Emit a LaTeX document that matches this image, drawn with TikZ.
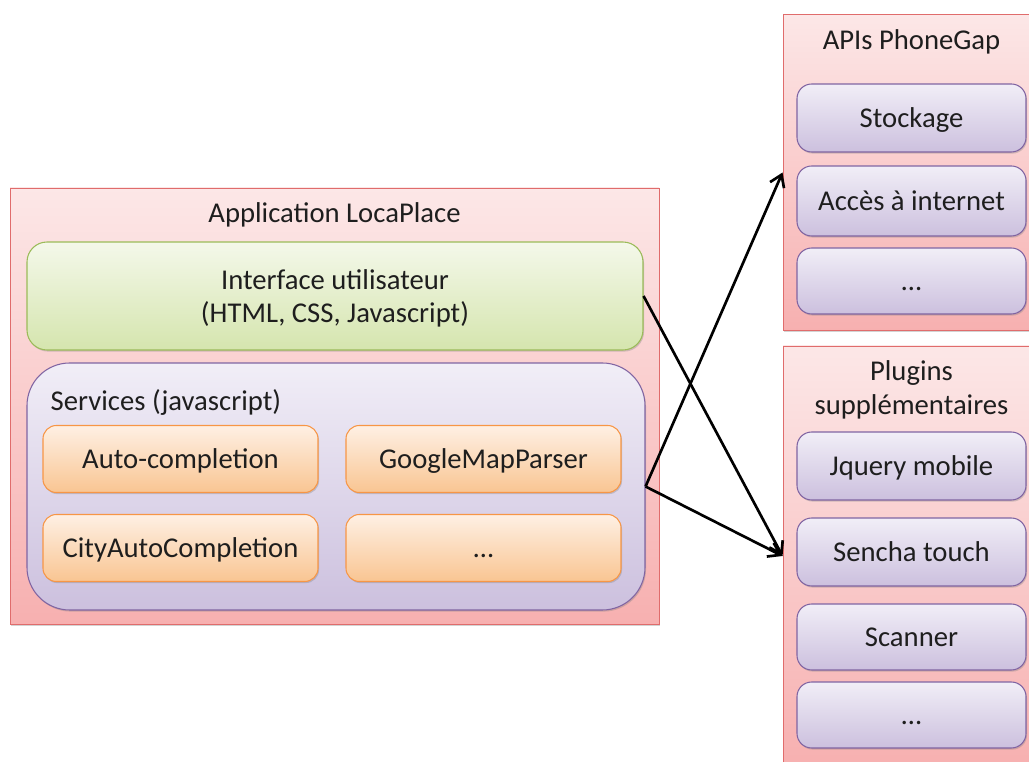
\documentclass[tikz,border=0pt]{standalone}
\usepackage{fontspec}
\setmainfont{Carlito}
\usetikzlibrary{arrows.meta,positioning,shadows}
\definecolor{ink}{HTML}{1E1E1E}
\definecolor{appTop}{HTML}{FCE7E7}
\definecolor{appBot}{HTML}{F7B0B0}
\definecolor{appLine}{HTML}{E06C6C}
\definecolor{uiTop}{HTML}{F4F8EA}
\definecolor{uiBot}{HTML}{D5E5AE}
\definecolor{uiLine}{HTML}{9BBB59}
\definecolor{svTop}{HTML}{F1EEF7}
\definecolor{svBot}{HTML}{CCC0DE}
\definecolor{svLine}{HTML}{8064A2}
\definecolor{orTop}{HTML}{FEF0E4}
\definecolor{orBot}{HTML}{F9C592}
\definecolor{orLine}{HTML}{F79646}
\def\px{0.75pt}

\begin{document}
\begin{tikzpicture}[x=0.75pt,y=-0.75pt,font=\fontsize{21.5}{25}\selectfont,text=ink,
  shade/.style={drop shadow={shadow xshift=0.8pt,shadow yshift=-1.2pt,opacity=0.35}},
  container/.style={draw=appLine,line width=0.7pt,top color=appTop,bottom color=appBot,
                    inner sep=0pt,shade},
  uibox/.style={draw=uiLine,line width=0.8pt,top color=uiTop,bottom color=uiBot,
                rounded corners=15pt,inner sep=0pt,align=center,text depth=0pt,shade},
  svbox/.style={draw=svLine,line width=0.8pt,top color=svTop,bottom color=svBot,
                inner sep=0pt,shade},
  orbox/.style={draw=orLine,line width=0.8pt,top color=orTop,bottom color=orBot,
                rounded corners=10pt,inner sep=0pt,minimum width=275*\px,
                minimum height=67*\px,text height=13.8pt,text depth=0pt,shade},
  apibox/.style={draw=svLine,line width=0.8pt,top color=svTop,bottom color=svBot,
                 rounded corners=11pt,inner sep=0pt,minimum width=229*\px,
                 minimum height=68*\px,text height=13.8pt,text depth=0pt,shade},
  link/.style={-{Straight Barb[length=3mm,width=4mm]},line width=2pt,black}]
\useasboundingbox (0,0) rectangle (1029,762);
% --- application --------------------------------------------------------
\node[container,minimum width=649*\px,minimum height=436*\px] (app) at (334.5,406) {};
\node (appT) at (334.5,215) {Application LocaPlace};
\node[uibox,minimum width=616*\px,minimum height=108*\px] (ui) at (335,296)
  {Interface utilisateur\\(HTML, CSS, Javascript)};
\node[svbox,rounded corners=32pt,minimum width=618*\px,minimum height=247*\px]
  (serv) at (336,486.5) {};
\node[anchor=west] (servT) at (46,402) {Services (javascript)};
\node[orbox] (autoc) at (180.5,459) {Auto-completion};
\node[orbox] (gmap) at (483.5,459) {GoogleMapParser};
\node[orbox] (city) at (180.5,548) {CityAutoCompletion};
\node[orbox] (more) at (483.5,548) {\dots};
% --- phonegap apis ------------------------------------------------------
\node[container,minimum width=248*\px,minimum height=316*\px] (apis) at (907,172.5) {};
\node (apisT) at (911.5,42) {APIs PhoneGap};
\node[apibox] (store) at (911.5,118) {Stockage};
\node[apibox,minimum height=70*\px] (net) at (911.5,201) {Accès à internet};
\node[apibox,minimum height=66*\px] (apiMore) at (911.5,281) {\dots};
% --- plugins ------------------------------------------------------------
\node[container,minimum width=248*\px,minimum height=420*\px] (plug) at (907,556) {};
\node[align=center] (plugT) at (911.5,390) {Plugins\\supplémentaires};
\node[apibox] (jq) at (911.5,466) {Jquery mobile};
\node[apibox] (sencha) at (911.5,552) {Sencha touch};
\node[apibox,minimum height=66*\px] (scan) at (911.5,637) {Scanner};
\node[apibox,minimum height=66*\px] (plugMore) at (911.5,715) {\dots};
% --- links --------------------------------------------------------------
\draw[link] (ui.east) -- (plug.west);
\draw[link] (serv.east) -- (apis.west);
\draw[link] (serv.east) -- (plug.west);
\end{tikzpicture}
\end{document}
